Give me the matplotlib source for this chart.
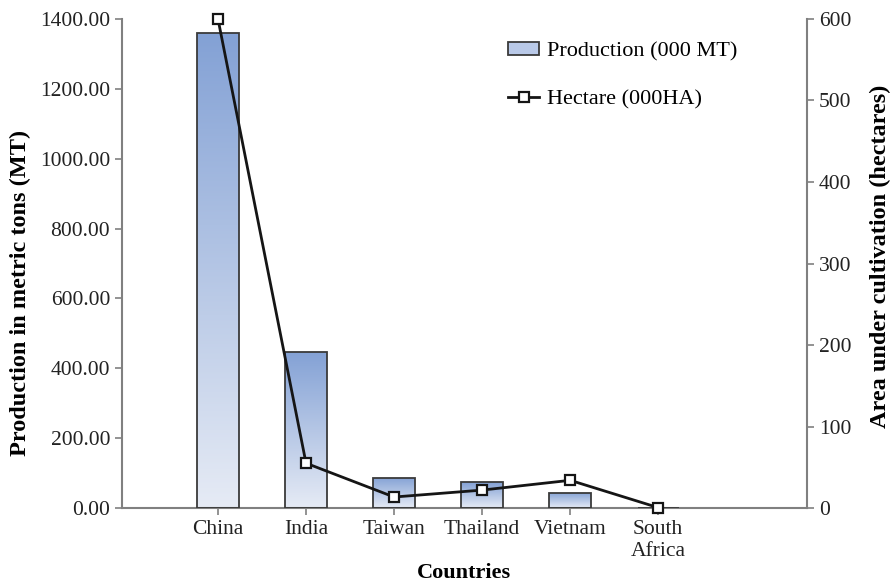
import numpy as np
import matplotlib
matplotlib.use("Agg")
import matplotlib.pyplot as plt
from matplotlib.colors import LinearSegmentedColormap
from matplotlib.ticker import FormatStrFormatter
from matplotlib.lines import Line2D
from matplotlib.patches import Rectangle

countries = ["China", "India", "Taiwan", "Thailand", "Vietnam", "South\nAfrica"]
production = [1360, 447, 86, 74, 43, 1]          # 000 MT
hectare = [600, 55, 13.5, 22, 34, 0.5]           # 000 HA

plt.rcParams['font.family'] = ['Liberation Serif', 'DejaVu Serif']
axis_grey = '#808080'

fig = plt.figure(figsize=(8.92, 5.84), dpi=100)
ax = fig.add_axes([0.1368, 0.1301, 0.7679, 0.8374])
ax2 = ax.twinx()

x = np.arange(len(countries))
width = 0.47

# bars with a vertical gradient (dark at the top, pale at the base)
cmap = LinearSegmentedColormap.from_list('bar', ['#e6ebf5', '#83a1d5'])
grad = np.linspace(0, 1, 256).reshape(-1, 1)
bars = ax.bar(x, production, width, facecolor='none', edgecolor='#3a3a3a',
              linewidth=1.3, zorder=3)
for b in bars:
    x0, h = b.get_x(), b.get_height()
    im = ax.imshow(grad, extent=[x0, x0 + b.get_width(), 0, h], origin='lower',
                   cmap=cmap, aspect='auto', zorder=2)
    im.set_clip_path(b)

ax.set_xlim(-1.09, 6.69)
ax.set_ylim(0, 1400)
ax.set_yticks(np.arange(0, 1401, 200))
ax.yaxis.set_major_formatter(FormatStrFormatter('%.2f'))
ax.set_xticks(x)
ax.set_xticklabels(countries, linespacing=1.25)

ax2.plot(x, hectare, color='#151515', linewidth=2, marker='s', markersize=7,
         markerfacecolor='white', markeredgecolor='#151515', markeredgewidth=1.6,
         zorder=4, clip_on=False)
ax2.set_ylim(0, 600)
ax2.set_yticks(np.arange(0, 601, 100))

for a in (ax, ax2):
    for s in a.spines.values():
        s.set_visible(False)
    a.tick_params(colors=axis_grey, labelcolor='#222222', labelsize=15.5,
                  length=5, width=1.2)
ax.spines['left'].set_visible(True)
ax.spines['bottom'].set_visible(True)
ax2.spines['right'].set_visible(True)
for s in (ax.spines['left'], ax.spines['bottom'], ax2.spines['right']):
    s.set_color(axis_grey)
    s.set_linewidth(1.5)

ax.set_ylabel('Production in metric tons (MT)', fontsize=17.5, fontweight='bold',
              va='center')
ax.yaxis.set_label_coords(-0.149, 0.44)
ax2.set_ylabel('Area under cultivation (hectares)', fontsize=17.5, fontweight='bold',
               va='center')
ax2.yaxis.set_label_coords(1.107, 0.515)
ax.set_xlabel('Countries', fontsize=16, fontweight='bold', va='center')
ax.xaxis.set_label_coords(0.499, -0.133)

handles = [Rectangle((0, 0), 1, 1, facecolor='#b9c9e8', edgecolor='#3a3a3a', linewidth=1.3),
           Line2D([], [], color='#151515', linewidth=2, marker='s', markersize=7,
                  markerfacecolor='white', markeredgewidth=1.6)]
ax2.legend(handles, ['Production (000 MT)', 'Hectare (000HA)'], frameon=False,
           loc='upper left', bbox_to_anchor=(497 / 892, 1 - 31 / 584),
           bbox_transform=fig.transFigure, borderpad=0, fontsize=16,
           labelspacing=1.3, handlelength=1.4, handletextpad=0.35,
           handleheight=0.5)

fig.savefig('out.png', dpi=100)
